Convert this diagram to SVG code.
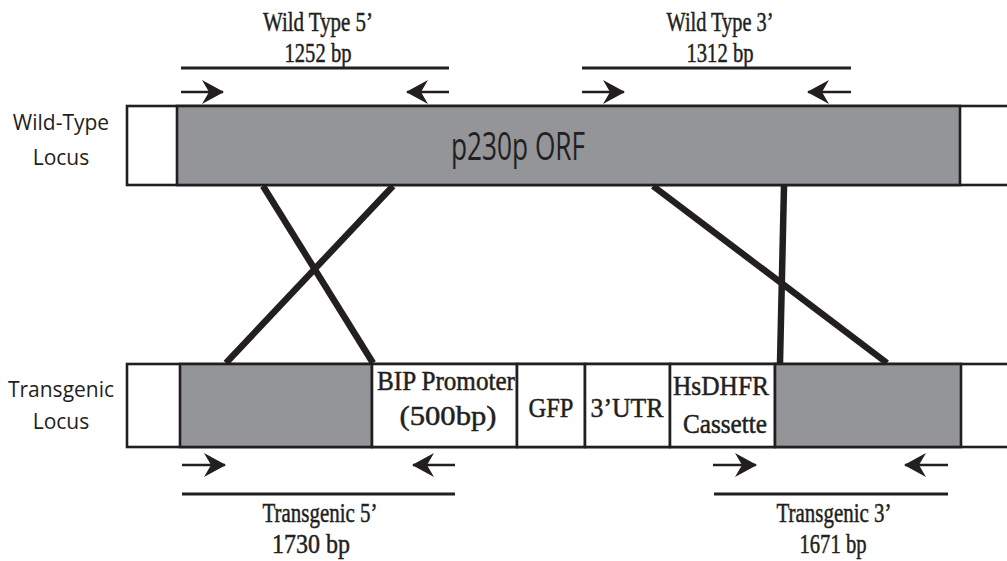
<svg xmlns="http://www.w3.org/2000/svg" width="1007" height="561" viewBox="0 0 1007 561">
<style>
.box{stroke:#231f20;stroke-width:2.6}
.w{fill:#ffffff}
.g{fill:#939598}
.serif{font-family:"Liberation Serif","Times New Roman",serif;font-size:28px;fill:#231f20;stroke:#231f20;stroke-width:0.5;text-anchor:middle}
.sans{font-family:"Open Sans","Noto Sans","Liberation Sans",sans-serif;fill:#231f20;text-anchor:middle}
.amp{stroke:#231f20;stroke-width:2.8;fill:none}
.pr{stroke:#231f20;stroke-width:2.4;fill:none}
.cross{stroke:#231f20;stroke-width:6.5;fill:none}
</style>
<defs>
<marker id="ah" viewBox="0 0 22 24" refX="21" refY="12" markerWidth="22" markerHeight="24" markerUnits="userSpaceOnUse" orient="auto">
<path d="M0,0 L22,12 L0,24 L7,12 Z" fill="#231f20"/>
</marker>
</defs>
<rect width="1007" height="561" fill="#ffffff"/>

<g id="labels">
<text class="sans" x="61" y="130" font-size="21">Wild-Type</text>
<text class="sans" x="61" y="165" font-size="21">Locus</text>
<text class="sans" x="61" y="397" font-size="21">Transgenic</text>
<text class="sans" x="61" y="429" font-size="21">Locus</text>
</g>

<g id="wildtype-locus">
<rect class="box w" x="127" y="106" width="900" height="79"/>
<rect class="box g" x="177" y="106" width="783" height="79"/>
<text class="sans" x="518" y="160" font-size="38" textLength="134" lengthAdjust="spacingAndGlyphs">p230p ORF</text>
</g>

<g id="transgenic-locus">
<rect class="box w" x="127" y="364" width="900" height="83"/>
<rect class="box g" x="180" y="364" width="192" height="83"/>
<g id="bip">
<rect class="box w" x="372" y="364" width="145" height="83"/>
<text class="serif" x="446" y="390" textLength="138" lengthAdjust="spacingAndGlyphs">BIP Promoter</text>
<text class="serif" x="448" y="425" textLength="97" lengthAdjust="spacingAndGlyphs">(500bp)</text>
</g>
<g id="gfp">
<rect class="box w" x="517" y="364" width="68" height="83"/>
<text class="serif" x="551" y="417" textLength="45" lengthAdjust="spacingAndGlyphs">GFP</text>
</g>
<g id="utr">
<rect class="box w" x="585" y="364" width="85" height="83"/>
<text class="serif" x="627" y="417" textLength="73" lengthAdjust="spacingAndGlyphs">3’UTR</text>
</g>
<g id="hsdhfr">
<rect class="box w" x="670" y="364" width="105" height="83"/>
<text class="serif" x="721" y="395" textLength="96" lengthAdjust="spacingAndGlyphs">HsDHFR</text>
<text class="serif" x="725" y="433" textLength="84" lengthAdjust="spacingAndGlyphs">Cassette</text>
</g>
<rect class="box g" x="775" y="364" width="186" height="83"/>
</g>

<g id="connectors">
<line class="cross" x1="263" y1="186" x2="373" y2="363"/>
<line class="cross" x1="393" y1="186" x2="226" y2="363"/>
<line class="cross" x1="653" y1="186" x2="887" y2="363"/>
<line class="cross" x1="784" y1="186" x2="780" y2="363"/>
</g>

<g id="wt5-amplicon">
<text class="serif" x="318" y="31" textLength="110" lengthAdjust="spacingAndGlyphs">Wild Type 5’</text>
<text class="serif" x="318" y="62" textLength="67" lengthAdjust="spacingAndGlyphs">1252 bp</text>
<line class="amp" x1="181" y1="68" x2="449" y2="68"/>
<line class="pr" x1="181" y1="92" x2="223" y2="92" marker-end="url(#ah)"/>
<line class="pr" x1="449" y1="92" x2="407" y2="92" marker-end="url(#ah)"/>
</g>

<g id="wt3-amplicon">
<text class="serif" x="720" y="31" textLength="107" lengthAdjust="spacingAndGlyphs">Wild Type 3’</text>
<text class="serif" x="720" y="62" textLength="67" lengthAdjust="spacingAndGlyphs">1312 bp</text>
<line class="amp" x1="582" y1="68" x2="851" y2="68"/>
<line class="pr" x1="582" y1="92" x2="624" y2="92" marker-end="url(#ah)"/>
<line class="pr" x1="851" y1="92" x2="808" y2="92" marker-end="url(#ah)"/>
</g>

<g id="tg5-amplicon">
<line class="pr" x1="182" y1="465" x2="225" y2="465" marker-end="url(#ah)"/>
<line class="pr" x1="455" y1="465" x2="413" y2="465" marker-end="url(#ah)"/>
<line class="amp" x1="182" y1="494" x2="455" y2="494"/>
<text class="serif" x="320" y="522" textLength="115" lengthAdjust="spacingAndGlyphs">Transgenic 5’</text>
<text class="serif" x="311" y="553" textLength="78" lengthAdjust="spacingAndGlyphs">1730 bp</text>
</g>

<g id="tg3-amplicon">
<line class="pr" x1="713" y1="465" x2="756" y2="465" marker-end="url(#ah)"/>
<line class="pr" x1="948" y1="465" x2="905" y2="465" marker-end="url(#ah)"/>
<line class="amp" x1="714" y1="494" x2="948" y2="494"/>
<text class="serif" x="834" y="522" textLength="115" lengthAdjust="spacingAndGlyphs">Transgenic 3’</text>
<text class="serif" x="833" y="553" textLength="67" lengthAdjust="spacingAndGlyphs">1671 bp</text>
</g>
</svg>
